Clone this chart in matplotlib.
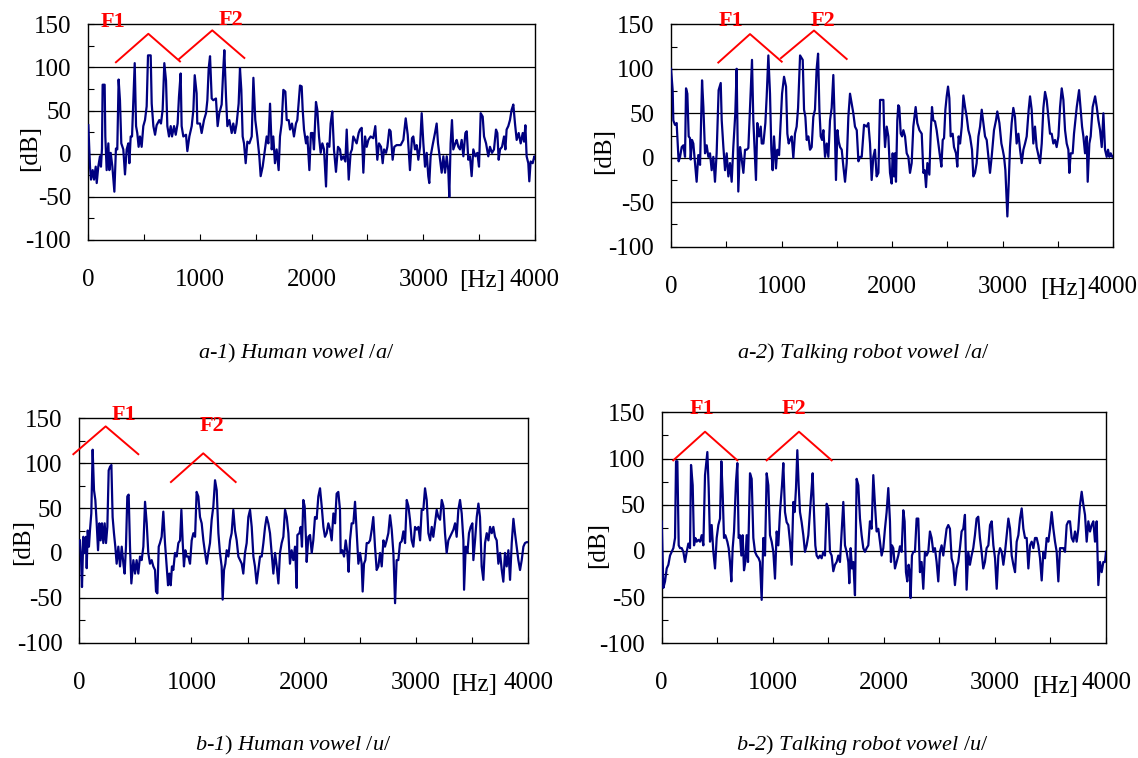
import numpy as np
import matplotlib
matplotlib.use("Agg")
import matplotlib.pyplot as plt
from matplotlib.ticker import MultipleLocator

plt.rcParams["font.family"] = ["Liberation Serif", "DejaVu Serif"]
plt.rcParams["axes.unicode_minus"] = False
plt.rcParams["mathtext.fontset"] = "custom"
plt.rcParams["mathtext.rm"] = "Liberation Serif:italic"
plt.rcParams["mathtext.it"] = "Liberation Serif:italic"

# spectra: (frequency Hz, level dB)
A1_SPECTRUM = [
    (3, 33), (18, -15), (27, -30), (42, -19), (54, -30), (69, -15), (78, -34), (92, -15), (107, -3), (116, -15),
    (125, 6), (131, 80), (149, 80), (155, 20), (167, -19), (182, 12), (191, -19), (203, 1), (218, -15), (236, -44),
    (250, 6), (262, 5), (274, 86), (286, 62), (298, 12), (316, 5), (331, -24), (346, 5), (361, 12), (370, -11),
    (382, 20), (394, 20), (406, 64), (418, 105), (430, 32), (441, 24), (453, 8), (465, 20), (480, 8), (495, 32),
    (510, 39), (525, 55), (537, 114), (561, 114), (570, 58), (585, 32), (600, 22), (614, 33), (638, 39), (653, 35),
    (668, 51), (683, 105), (698, 85), (710, 32), (725, 20), (740, 32), (752, 20), (770, 32), (785, 22), (802, 35),
    (814, 66), (829, 93), (838, 32), (853, 20), (877, 22), (889, 3), (907, 20), (928, 32), (943, 51), (955, 91),
    (972, 70), (978, 35), (1002, 35), (1017, 24), (1038, 39), (1056, 47), (1068, 62), (1080, 99), (1092, 113), (1107, 64),
    (1121, 62), (1145, 64), (1160, 32), (1175, 47), (1196, 57), (1211, 99), (1220, 120), (1235, 66), (1247, 32), (1265, 39),
    (1286, 24), (1300, 35), (1315, 24), (1330, 35), (1348, 58), (1360, 99), (1372, 74), (1384, 20), (1396, 12), (1411, -11),
    (1426, 14), (1444, 12), (1465, 20), (1480, 88), (1497, 39), (1515, 20), (1533, -3), (1545, -26), (1563, -15), (1584, 5),
    (1599, 20), (1614, 12), (1629, 58), (1644, 5), (1658, 20), (1673, -11), (1688, 5), (1706, -19), (1718, 20), (1733, 35),
    (1748, 74), (1766, 72), (1778, 39), (1796, 39), (1808, 28), (1825, 35), (1843, 20), (1861, 35), (1873, 39), (1897, 79),
    (1912, 78), (1921, 51), (1933, 28), (1951, 12), (1963, 20), (1981, -19), (1995, 24), (2010, 24), (2022, 5), (2040, 60),
    (2052, 51), (2067, 20), (2082, 1), (2097, 12), (2112, 5), (2130, -38), (2142, 12), (2160, 8), (2171, 35), (2186, 49),
    (2201, 5), (2219, -21), (2237, 8), (2255, 5), (2267, -7), (2285, -3), (2303, -9), (2315, 28), (2333, -30), (2350, 1),
    (2362, 5), (2374, 20), (2389, 16), (2404, 12), (2422, 24), (2434, 28), (2449, 30), (2464, -22), (2479, 20), (2494, 8),
    (2509, 16), (2529, 20), (2553, 18), (2571, 32), (2589, -7), (2604, 12), (2622, 8), (2637, -11), (2649, 5), (2667, 1),
    (2679, 8), (2696, 28), (2708, 26), (2726, -7), (2741, 8), (2762, 10), (2780, 10), (2798, 10), (2822, 16), (2843, 41),
    (2861, 22), (2881, -19), (2899, 18), (2911, 20), (2926, 5), (2941, 10), (2956, -7), (2971, 8), (2986, 47), (3001, 12),
    (3016, -15), (3031, 1), (3045, -26), (3054, -34), (3066, -3), (3084, 10), (3105, 24), (3120, 35), (3132, 12), (3150, -7),
    (3165, -22), (3180, -3), (3195, -22), (3210, -3), (3224, -19), (3233, -50), (3245, 12), (3257, 39), (3269, 5), (3287, 12),
    (3299, 16), (3314, 8), (3329, 5), (3344, 16), (3359, -3), (3377, 24), (3389, 26), (3403, -7), (3418, -3), (3433, -26),
    (3448, 5), (3466, -3), (3484, 1), (3499, -15), (3514, 47), (3532, 43), (3544, 20), (3562, 12), (3582, -3), (3597, 8),
    (3615, 1), (3633, 5), (3651, 28), (3663, 24), (3675, -7), (3687, 5), (3705, 8), (3723, 20), (3735, 5), (3746, 28),
    (3761, 32), (3776, 39), (3791, 51), (3806, 57), (3821, 35), (3836, 16), (3854, 24), (3872, 12), (3890, 24), (3902, 14),
    (3914, 33), (3925, -3), (3940, -11), (3949, -32), (3961, -9), (3979, -11), (3994, -3), (4000, -5),
]

A2_SPECTRUM = [
    (0, 100), (15, 76), (21, 42), (36, 37), (51, 39), (57, 24), (69, -4), (82, 1), (97, 12), (112, 14),
    (127, 1), (136, 78), (148, 72), (160, 24), (172, 22), (178, -2), (190, 20), (202, 16), (217, -6), (232, -27),
    (247, 3), (263, -8), (281, 87), (293, 57), (308, 5), (323, 14), (338, 1), (353, 5), (368, -14), (383, 1),
    (398, -27), (413, 5), (431, 76), (450, 84), (459, 42), (474, 12), (489, -14), (504, 5), (519, -21), (534, -6),
    (549, -27), (564, 12), (582, 50), (594, 100), (609, -38), (625, 12), (640, -2), (655, -17), (670, 9), (685, 9),
    (700, 11), (715, 57), (733, 110), (745, 42), (769, -25), (781, 39), (797, 24), (812, 35), (821, 16), (836, 16),
    (854, 39), (866, 69), (881, 115), (896, 72), (908, 9), (920, -14), (932, 24), (950, -12), (962, 9), (978, 3),
    (993, 42), (1005, 72), (1023, 91), (1041, 80), (1053, 27), (1065, 16), (1077, 20), (1092, 24), (1107, 0), (1122, 27),
    (1137, 35), (1150, 56), (1168, 115), (1192, 110), (1204, 54), (1216, 46), (1228, 20), (1243, 24), (1258, 9), (1273, 12),
    (1288, 46), (1303, 54), (1318, 100), (1331, 117), (1343, 54), (1355, 24), (1367, 20), (1379, 31), (1394, 1), (1409, 16),
    (1424, 1), (1439, 42), (1454, 56), (1469, 93), (1481, 42), (1493, -25), (1506, 31), (1518, 18), (1530, 12), (1545, 9),
    (1560, -10), (1575, -27), (1590, -6), (1605, 46), (1620, 72), (1635, 61), (1650, 50), (1665, 35), (1681, 31), (1696, -4),
    (1711, 1), (1726, 1), (1747, 37), (1771, 35), (1786, 39), (1801, 16), (1816, -25), (1831, 1), (1846, 9), (1861, -21),
    (1877, -17), (1892, 65), (1907, 65), (1922, 65), (1928, 35), (1937, 12), (1952, 35), (1967, 24), (1982, -17), (1997, -29),
    (2006, 5), (2018, -21), (2027, 5), (2036, -27), (2048, 42), (2057, 59), (2066, 57), (2079, 27), (2091, 24), (2103, 31),
    (2118, 24), (2133, 5), (2148, 1), (2163, -17), (2178, -6), (2193, 35), (2214, 57), (2229, 39), (2248, 31), (2269, 27),
    (2284, -17), (2296, -14), (2308, -33), (2320, -6), (2338, -19), (2350, 27), (2362, 57), (2374, 42), (2389, 41), (2404, 31),
    (2419, 16), (2435, 1), (2447, -10), (2459, 20), (2471, 22), (2483, 54), (2495, 69), (2507, 80), (2519, 67), (2531, 24),
    (2549, 27), (2561, 12), (2579, 5), (2591, -10), (2603, 24), (2616, 16), (2631, 35), (2646, 70), (2661, 57), (2676, 46),
    (2691, 31), (2706, 24), (2724, 9), (2736, -21), (2751, -17), (2766, -6), (2782, 24), (2797, 35), (2812, 54), (2827, 39),
    (2842, 24), (2857, 20), (2872, 1), (2887, -17), (2902, 1), (2923, 31), (2941, 42), (2953, 52), (2972, 39), (2990, 16),
    (3002, 9), (3014, 1), (3026, -14), (3044, -66), (3056, -29), (3068, 12), (3083, 39), (3098, 56), (3113, 46), (3128, 16),
    (3144, 27), (3159, 9), (3174, -6), (3189, 9), (3204, 16), (3219, 24), (3237, 54), (3249, 69), (3264, 54), (3279, 16),
    (3294, 35), (3309, 12), (3328, 1), (3340, -6), (3355, 16), (3370, 56), (3385, 74), (3400, 65), (3415, 46), (3430, 27),
    (3445, 27), (3460, 16), (3475, 20), (3490, 12), (3506, 24), (3521, 57), (3536, 78), (3551, 65), (3566, 31), (3581, 16),
    (3596, 9), (3605, -17), (3617, 5), (3635, 5), (3647, 27), (3672, 57), (3693, 76), (3708, 54), (3720, 35), (3732, 24),
    (3747, 5), (3762, 24), (3771, -27), (3786, 16), (3798, 24), (3816, 57), (3838, 69), (3853, 57), (3868, 42), (3883, 31),
    (3898, 12), (3913, 50), (3928, 9), (3943, 1), (3955, 9), (3967, 1), (3979, 5), (3994, 1), (4000, 1),
]

B1_SPECTRUM = [
    (6, 14), (15, -4), (24, -38), (36, 18), (48, 0), (60, 18), (66, -17), (75, 25), (86, 7), (95, 25),
    (107, 44), (119, 115), (131, 70), (143, 59), (155, 33), (167, 3), (179, 33), (190, 14), (202, 33), (214, 11),
    (226, 33), (238, 11), (250, 29), (262, 92), (274, 96), (286, 98), (297, 40), (309, 22), (321, 7), (333, -12),
    (348, 7), (363, -15), (378, 7), (393, -12), (404, -23), (416, 7), (428, 63), (440, 65), (452, 7), (464, -34),
    (482, -8), (497, -23), (511, -8), (526, -23), (541, -4), (556, -8), (571, 7), (586, 57), (601, 33), (615, 0),
    (630, -12), (645, -8), (660, -15), (675, -19), (684, -43), (696, -45), (708, 7), (719, 11), (734, 18), (749, 46),
    (764, 11), (779, -15), (791, -36), (803, -23), (815, -36), (826, -15), (838, -19), (853, 0), (868, -4), (883, 11),
    (898, 14), (910, 48), (922, 11), (933, -15), (945, 3), (957, -4), (972, -4), (987, -12), (1002, 14), (1017, 22),
    (1032, 18), (1046, 68), (1061, 63), (1076, 40), (1091, 33), (1106, 14), (1121, 0), (1136, -12), (1150, 0), (1165, 11),
    (1180, 37), (1195, 52), (1210, 81), (1225, 70), (1240, 22), (1254, 0), (1269, -15), (1278, -52), (1290, -19), (1302, -12),
    (1314, 3), (1329, -4), (1344, 14), (1358, 22), (1373, 48), (1388, 25), (1403, 14), (1418, -4), (1433, -8), (1448, -12),
    (1462, -23), (1477, 0), (1492, 11), (1507, 40), (1522, 48), (1537, 29), (1552, -4), (1566, -15), (1581, -34), (1596, -19),
    (1611, -4), (1626, -4), (1641, 11), (1656, 29), (1670, 40), (1685, 33), (1700, 22), (1715, 0), (1730, -23), (1745, 0),
    (1760, -15), (1775, -34), (1789, 0), (1804, 11), (1819, 18), (1834, 48), (1849, 40), (1864, 22), (1878, -12), (1893, 3),
    (1908, -8), (1923, 7), (1938, -39), (1944, 20), (1962, 22), (1974, 29), (1985, 7), (1997, 59), (2009, 52), (2021, 14),
    (2027, -10), (2042, 18), (2057, 20), (2072, 0), (2086, 14), (2101, 40), (2116, 38), (2131, 63), (2146, 72), (2161, 52),
    (2176, 29), (2190, 18), (2205, 22), (2220, 33), (2235, 26), (2250, 14), (2265, 44), (2280, 33), (2294, 66), (2309, 68),
    (2324, 48), (2330, 0), (2345, 3), (2360, -4), (2375, 14), (2390, 0), (2401, -21), (2413, 14), (2428, 33), (2443, 33),
    (2458, 57), (2473, 22), (2488, -12), (2503, 0), (2517, -12), (2526, -43), (2538, -12), (2550, -8), (2562, 11), (2577, 11),
    (2592, 14), (2607, 26), (2621, 40), (2636, 7), (2651, -19), (2666, -15), (2681, 0), (2696, -15), (2711, 14), (2725, 7),
    (2740, 14), (2755, 22), (2770, 42), (2785, 26), (2800, 0), (2815, -56), (2829, -8), (2844, -8), (2859, 11), (2874, 13),
    (2889, 24), (2904, 11), (2919, 59), (2934, 52), (2948, 37), (2963, 14), (2978, 7), (2993, 29), (3008, 26), (3023, 29),
    (3038, 14), (3052, 48), (3067, 48), (3082, 72), (3097, 59), (3112, 22), (3127, 14), (3142, 29), (3156, 18), (3171, 33),
    (3186, 48), (3201, 40), (3216, 37), (3231, 59), (3246, 52), (3260, 22), (3275, 0), (3290, 14), (3305, 18), (3320, 22),
    (3335, 26), (3350, 33), (3364, 18), (3379, 48), (3394, 59), (3409, 44), (3424, 14), (3430, -41), (3445, 7), (3460, 0),
    (3474, 22), (3489, 29), (3504, 33), (3513, -8), (3528, 14), (3543, 40), (3558, 55), (3572, 40), (3587, -15), (3602, -30),
    (3617, 11), (3632, 22), (3647, 14), (3662, 29), (3677, 22), (3691, 29), (3706, 18), (3721, 14), (3736, -12), (3751, 0),
    (3766, -19), (3780, -32), (3795, 0), (3810, -15), (3825, 3), (3840, -30), (3855, 11), (3870, 38), (3884, 22), (3899, 7),
    (3914, -8), (3929, -19), (3944, -8), (3959, 7), (3973, 11), (3988, 12), (4000, 12),
]

B2_SPECTRUM = [
    (0, 32), (15, -40), (30, -33), (45, -19), (60, -15), (75, -5), (90, -1), (105, 3), (120, 14), (129, 97),
    (141, 97), (153, 6), (165, 3), (180, 3), (195, -1), (210, -12), (225, -1), (240, 8), (255, 3), (264, 93),
    (279, 71), (291, 6), (303, 14), (315, 10), (330, 12), (345, 10), (360, 17), (375, 6), (390, 82), (411, 107),
    (423, 68), (435, 10), (450, 28), (465, -1), (480, -19), (495, 14), (510, 28), (525, 35), (537, 97), (549, 61),
    (561, 14), (573, 17), (591, 10), (603, 3), (615, -12), (627, -33), (639, 3), (651, 21), (669, 75), (681, 95),
    (693, 14), (705, 17), (717, -5), (729, 17), (741, -21), (753, -12), (765, 17), (777, -12), (795, 84), (810, 78),
    (825, 14), (840, -1), (855, -5), (873, -8), (885, -12), (900, -53), (915, 14), (930, -5), (945, 84), (960, 71),
    (975, 17), (990, 10), (1005, -1), (1020, -30), (1035, 21), (1050, 6), (1065, 42), (1083, 71), (1095, 95), (1110, 42),
    (1125, 31), (1140, 28), (1155, 10), (1170, -15), (1185, 53), (1197, 42), (1209, 68), (1221, 109), (1233, 71), (1245, 42),
    (1260, 31), (1275, 17), (1290, -1), (1305, 6), (1320, 17), (1335, 42), (1350, 68), (1359, 84), (1371, 42), (1383, 6),
    (1395, -5), (1410, -8), (1425, -5), (1440, -8), (1455, -1), (1470, -5), (1485, 51), (1500, 46), (1515, -1), (1530, -5),
    (1545, -22), (1560, -15), (1575, -12), (1590, -5), (1605, -12), (1620, 21), (1635, 53), (1650, 6), (1665, -1), (1680, -12),
    (1689, -35), (1701, 3), (1713, -19), (1725, -12), (1740, -48), (1755, 78), (1770, 71), (1785, 35), (1800, 17), (1815, 3),
    (1830, -1), (1845, 3), (1860, 6), (1875, 32), (1890, 24), (1905, 82), (1920, 50), (1935, 21), (1950, 24), (1965, 10),
    (1980, -5), (1995, 3), (2010, 24), (2025, 42), (2040, 68), (2055, 32), (2064, -12), (2073, 6), (2085, 3), (2100, -19),
    (2115, -12), (2130, -5), (2145, 5), (2160, -1), (2175, 44), (2187, 32), (2199, -23), (2211, -33), (2223, -15), (2235, -26),
    (2241, -51), (2253, -5), (2265, -1), (2280, -1), (2295, 35), (2310, 35), (2325, -23), (2340, -12), (2355, -41), (2370, -1),
    (2385, -5), (2400, -1), (2415, 21), (2430, 14), (2445, -1), (2460, 3), (2475, -12), (2490, -33), (2505, -1), (2520, 6),
    (2535, -5), (2550, 10), (2565, 24), (2580, 28), (2595, 24), (2610, -8), (2625, -15), (2640, -37), (2655, -19), (2670, -12),
    (2685, 3), (2700, 21), (2715, 24), (2730, 39), (2745, -42), (2760, -1), (2775, -15), (2790, -5), (2805, 3), (2820, 17),
    (2835, 35), (2850, 37), (2865, 14), (2880, -1), (2895, -19), (2910, -12), (2925, 3), (2941, 6), (2956, 28), (2971, 32),
    (2986, 6), (3001, -8), (3016, -41), (3031, -5), (3046, 3), (3061, -1), (3076, -15), (3091, -1), (3106, 17), (3121, 35),
    (3136, 24), (3151, -5), (3166, -15), (3181, -23), (3196, 10), (3211, 17), (3226, 35), (3241, 46), (3256, 24), (3271, 14),
    (3286, 14), (3301, -19), (3316, 6), (3331, 10), (3346, 3), (3361, 14), (3376, 14), (3391, 6), (3406, -8), (3421, -32),
    (3436, -1), (3451, -8), (3466, 14), (3481, 10), (3496, 24), (3511, 42), (3526, 24), (3541, 10), (3556, -1), (3571, -33),
    (3586, 3), (3601, 3), (3616, 3), (3631, -1), (3646, 28), (3661, 32), (3676, 32), (3691, 14), (3706, 10), (3721, 21),
    (3736, 10), (3751, 24), (3766, 50), (3781, 64), (3796, 50), (3811, 39), (3826, 10), (3841, 32), (3856, 21), (3871, 28),
    (3886, 32), (3901, 10), (3916, 32), (3931, -37), (3946, -12), (3961, -23), (3976, -12), (3991, -12), (4000, -1),
]

# formant brackets: (start, apex, end) in (Hz, dB), and label positions
A1_F1_HAT = [(250, 106), (540, 139), (823, 107)]
A1_F2_HAT = [(817, 110), (1112, 143), (1399, 111)]
A1_LABELS = [(224, 153), (1277, 155)]
A2_F1_HAT = [(428, 107), (715, 139), (1002, 108)]
A2_F2_HAT = [(995, 112), (1294, 143), (1590, 111)]
A2_LABELS = [(543, 154), (1375, 154)]
B1_F1_HAT = [(-53, 110), (235, 141), (526, 110)]
B1_F2_HAT = [(817, 79), (1105, 111), (1394, 79)]
B1_LABELS = [(398, 154), (1183, 141)]
B2_F1_HAT = [(104, 98), (390, 129), (681, 98)]
B2_F2_HAT = [(945, 98), (1236, 129), (1530, 98)]
B2_LABELS = [(363, 154), (1190, 154)]

CAPTIONS = [
    r"$a$-$1$) $Human\ vowel$ /$a$/",
    r"$a$-$2$) $Talking\ robot\ vowel$ /$a$/",
    r"$b$-$1$) $Human\ vowel$ /$u$/",
    r"$b$-$2$) $Talking\ robot\ vowel$ /$u$/",
]

Y_TICKS = [-100, -50, 0, 50, 100, 150]
X_TICKS = [0, 1000, 2000, 3000, 4000]

W, H = 1138, 758
# axes boxes in pixels: left, top, right, bottom
BOXES = [(88, 24.3, 535, 240), (671, 24.3, 1113, 246.7),
         (79.3, 418.3, 528, 642.7), (661.7, 412.3, 1106, 643.3)]
CAPTION_XY = [(296, 353), (863, 353), (293, 745), (862, 745)]
DB_XY = [(-0.130, 0.426), (-0.152, 0.430), (-0.125, 0.449), (-0.143, 0.426)]
HZ_X = [3530, 3548, 3519, 3541]

LINE_COLOR = "#000080"
RED = "#ff0000"

panels = [
    (A1_SPECTRUM, A1_F1_HAT, A1_F2_HAT, A1_LABELS),
    (A2_SPECTRUM, A2_F1_HAT, A2_F2_HAT, A2_LABELS),
    (B1_SPECTRUM, B1_F1_HAT, B1_F2_HAT, B1_LABELS),
    (B2_SPECTRUM, B2_F1_HAT, B2_F2_HAT, B2_LABELS),
]

fig = plt.figure(figsize=(W / 100, H / 100), dpi=100)

for i, (spec, f1, f2, labels) in enumerate(panels):
    l, t, r, b = BOXES[i]
    ax = fig.add_axes([l / W, 1 - b / H, (r - l) / W, (b - t) / H])

    hz, db = np.array(spec, dtype=float).T
    ax.plot(hz, db, color=LINE_COLOR, lw=1.6, zorder=3)

    ax.set_xlim(0, 4000)
    ax.set_ylim(-100, 150)
    ax.set_yticks(Y_TICKS)
    ax.set_xticks(X_TICKS)
    ax.set_xticklabels([str(x) for x in X_TICKS])
    ax.yaxis.set_minor_locator(MultipleLocator(25))
    ax.xaxis.set_minor_locator(MultipleLocator(500))
    ax.tick_params(axis="both", which="both", direction="in", length=4, width=0.8,
                   labelsize=18, top=False, right=False)
    ax.tick_params(axis="y", pad=12)
    ax.tick_params(axis="x", pad=21)
    for y in [-50, 0, 50, 100]:
        ax.axhline(y, color="black", lw=0.9, zorder=1)
    for s in ax.spines.values():
        s.set_linewidth(1.0)

    # formant brackets
    for hat in (f1, f2):
        hx, hy = zip(*hat)
        ax.plot(hx, hy, color=RED, lw=1.4, clip_on=False, zorder=4)
    for (x, y), txt in zip(labels, ["F1", "F2"]):
        ax.text(x, y, txt, color=RED, fontsize=16, fontweight="bold",
                ha="center", va="center", clip_on=False)

    ax.text(DB_XY[i][0], DB_XY[i][1], "[dB]", rotation=90, fontsize=18,
            ha="center", va="center", transform=ax.transAxes)
    ax.text(HZ_X[i], -147, "[Hz]", fontsize=18, ha="center", va="center")

    cx, cy = CAPTION_XY[i]
    fig.text(cx / W, 1 - cy / H, CAPTIONS[i], fontsize=16, ha="center", va="center")

fig.savefig("out.png", dpi=100)
